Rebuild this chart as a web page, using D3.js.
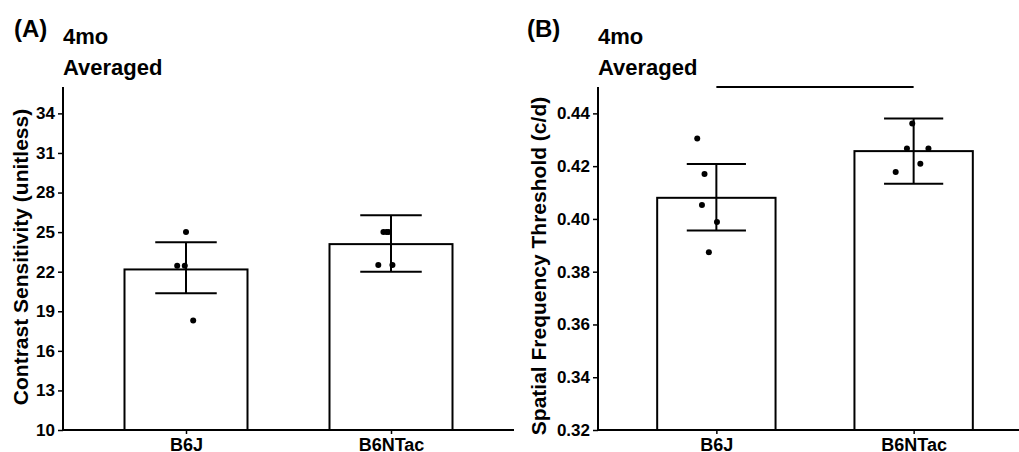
<!DOCTYPE html>
<html>
<head>
<meta charset="utf-8">
<script src="https://cdn.jsdelivr.net/npm/d3@7"></script>
<style>
  body { margin: 0; background: #fff; }
  svg text { font-family: Arial, "Liberation Sans", sans-serif; font-weight: bold; fill: #000; }
</style>
</head>
<body>
<div id="chart"></div>
<script>
const strains = ["B6J", "B6NTac"];

// (A) contrast sensitivity
const csMean = [22.17, 24.09];
const csLow = [20.36, 22.0];
const csHigh = [24.24, 26.27];
const csPoints = [[25, 22.45, 22.45, 18.3], [25, 25, 25, 22.5, 22.5]];
const csJitter = [[0, -0.043, -0.006, 0.035], [-0.037, -0.022, -0.012, -0.062, 0.007]];
const csTicks = [10, 13, 16, 19, 22, 25, 28, 31, 34];

// (B) spatial frequency threshold
const sfMean = [0.408, 0.4257];
const sfLow = [0.3956, 0.4133];
const sfHigh = [0.4208, 0.4381];
const sfPoints = [[0.4305, 0.417, 0.4053, 0.3988, 0.3874], [0.4362, 0.4267, 0.4267, 0.4209, 0.4178]];
const sfJitter = [[-0.097, -0.060, -0.073, 0.003, -0.038], [-0.007, -0.034, 0.075, 0.034, -0.091]];
const sfTicks = [0.32, 0.34, 0.36, 0.38, 0.40, 0.42, 0.44];
const sfBracket = 0.45;

const svg = d3.select("#chart")
    .append("svg")
    .attr("width", 1019)
    .attr("height", 452);

function drawPanel(p) {
    const g = svg.append("g");

    const x = d3.scalePoint()
        .domain(strains)
        .range([p.left, p.right])
        .padding(0.6);
    const step = x.step();

    const y = d3.scaleLinear()
        .domain(p.domain)
        .range([p.bottom, p.top]);

    // bars
    g.selectAll(".bar")
        .data(strains)
        .join("rect")
        .attr("class", "bar")
        .attr("x", d => x(d) - step * 0.3)
        .attr("width", step * 0.6)
        .attr("y", (d, i) => y(p.mean[i]))
        .attr("height", (d, i) => p.bottom - y(p.mean[i]))
        .attr("fill", "#fff")
        .attr("stroke", "#000")
        .attr("stroke-width", 2);

    // individual animals
    strains.forEach((s, i) => {
        g.selectAll(".pt" + i)
            .data(p.points[i])
            .join("circle")
            .attr("cx", (d, j) => x(s) + p.jitter[i][j] * step)
            .attr("cy", d => y(d))
            .attr("r", 3)
            .attr("fill", "#000");
    });

    // error bars
    const eb = g.selectAll(".eb")
        .data(strains)
        .join("g")
        .attr("stroke", "#000")
        .attr("stroke-width", 2);
    eb.append("line")
        .attr("x1", d => x(d)).attr("x2", d => x(d))
        .attr("y1", (d, i) => y(p.low[i]))
        .attr("y2", (d, i) => y(p.high[i]));
    eb.append("line")
        .attr("x1", d => x(d) - step * 0.15).attr("x2", d => x(d) + step * 0.15)
        .attr("y1", (d, i) => y(p.low[i])).attr("y2", (d, i) => y(p.low[i]));
    eb.append("line")
        .attr("x1", d => x(d) - step * 0.15).attr("x2", d => x(d) + step * 0.15)
        .attr("y1", (d, i) => y(p.high[i])).attr("y2", (d, i) => y(p.high[i]));

    // axes
    const yAxis = g.append("g")
        .attr("transform", "translate(" + p.left + ",0)")
        .call(d3.axisLeft(y).tickValues(p.ticks).tickFormat(p.fmt).tickSize(5).tickPadding(3).tickSizeOuter(0));
    yAxis.select(".domain").remove();
    yAxis.selectAll(".tick line").attr("stroke", "#000").attr("stroke-width", 1.5);
    yAxis.selectAll(".tick text").style("font-size", "17px").attr("fill", "#000");

    const xAxis = g.append("g")
        .attr("transform", "translate(0," + p.bottom + ")")
        .call(d3.axisBottom(x).tickSize(4).tickPadding(4).tickSizeOuter(0));
    xAxis.select(".domain").remove();
    xAxis.selectAll(".tick line").attr("stroke", "#000").attr("stroke-width", 1.5);
    xAxis.selectAll(".tick text").style("font-size", "18px").attr("fill", "#000");

    g.append("line")
        .attr("x1", p.left).attr("x2", p.left)
        .attr("y1", p.top).attr("y2", p.bottom + 1)
        .attr("stroke", "#000").attr("stroke-width", 2);
    g.append("line")
        .attr("x1", p.left - 1).attr("x2", p.right)
        .attr("y1", p.bottom).attr("y2", p.bottom)
        .attr("stroke", "#000").attr("stroke-width", 2);

    // significance bracket
    if (p.bracket !== undefined) {
        g.append("line")
            .attr("x1", x(strains[0])).attr("x2", x(strains[1]))
            .attr("y1", y(p.bracket)).attr("y2", y(p.bracket))
            .attr("stroke", "#000").attr("stroke-width", 2);
    }

    // titles
    g.append("text").attr("x", p.tagX).attr("y", 37).style("font-size", "24px").text(p.tag);
    g.append("text").attr("x", p.left).attr("y", 44).style("font-size", "22px").text("4mo");
    g.append("text").attr("x", p.left).attr("y", 75).style("font-size", "22px").text("Averaged");

    g.append("text")
        .attr("transform", "translate(" + p.titleX + "," + p.titleY + ") rotate(-90)")
        .attr("text-anchor", "middle")
        .style("font-size", "21px")
        .text(p.ylabel);
}

drawPanel({
    left: 63, right: 514, top: 87, bottom: 430,
    domain: [10, 36], ticks: csTicks, fmt: d3.format("d"),
    mean: csMean, low: csLow, high: csHigh, points: csPoints, jitter: csJitter,
    tag: "(A)", tagX: 14, titleX: 28, titleY: 257,
    ylabel: "Contrast Sensitivity (unitless)"
});

drawPanel({
    left: 598, right: 1032, top: 87, bottom: 430,
    domain: [0.32, 0.45], ticks: sfTicks, fmt: d3.format(".2f"),
    mean: sfMean, low: sfLow, high: sfHigh, points: sfPoints, jitter: sfJitter,
    bracket: sfBracket,
    tag: "(B)", tagX: 527, titleX: 546, titleY: 266,
    ylabel: "Spatial Frequency Threshold (c/d)"
});
</script>
</body>
</html>
